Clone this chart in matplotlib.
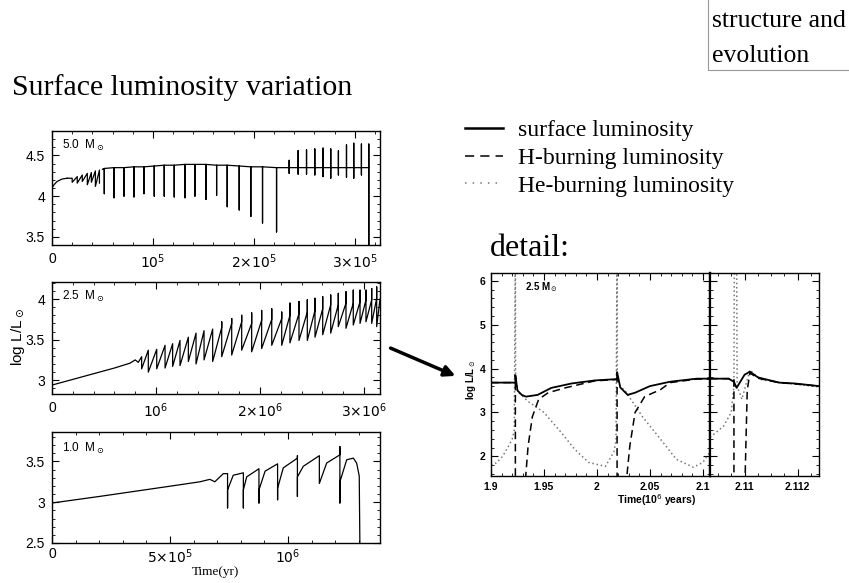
import matplotlib
matplotlib.use('Agg')
import matplotlib.pyplot as plt
from matplotlib.lines import Line2D
from matplotlib.patches import Rectangle, FancyArrowPatch
from matplotlib.ticker import MultipleLocator

# ---- 5.0 Msun: time in units of 1e5 yr ----
m5_early_t = [0.0, 0.02, 0.05, 0.10, 0.15]
m5_early_L = [4.10, 4.14, 4.18, 4.21, 4.22]
m5_teeth_t = [0.20, 0.25, 0.30, 0.35, 0.39, 0.43, 0.47]
m5_teeth_top = [4.22, 4.24, 4.26, 4.28, 4.29, 4.31, 4.32]
m5_teeth_low = [4.17, 4.16, 4.18, 4.14, 4.17, 4.12, 4.16]
m5_pulse_t = [0.518, 0.614, 0.713, 0.812, 0.911, 1.013, 1.112, 1.211, 1.317,
              1.416, 1.525, 1.631, 1.736, 1.855, 1.970, 2.086, 2.225, 2.350,
              2.439, 2.522, 2.604, 2.686, 2.762, 2.838, 2.918, 2.990, 3.066,
              3.139]
m5_base = [4.34, 4.35, 4.35, 4.36, 4.36, 4.37, 4.38, 4.38, 4.39, 4.39, 4.39,
           4.38, 4.38, 4.37, 4.36, 4.36, 4.35, 4.35, 4.35, 4.35, 4.35, 4.35,
           4.35, 4.35, 4.35, 4.35, 4.35, 4.35]
m5_high = [4.34, 4.35, 4.35, 4.36, 4.36, 4.37, 4.38, 4.38, 4.39, 4.39, 4.39,
           4.38, 4.38, 4.37, 4.36, 4.36, 4.35, 4.44, 4.56, 4.57, 4.58, 4.59,
           4.58, 4.56, 4.63, 4.65, 4.64, 4.64]
m5_low = [4.03, 3.98, 4.00, 3.99, 4.03, 4.00, 4.00, 3.99, 3.98, 4.00, 3.96,
          4.01, 3.87, 3.83, 3.75, 3.67, 3.56, 4.28, 4.27, 4.27, 4.26, 4.24,
          4.22, 4.26, 4.23, 4.22, 4.26, 3.30]
m5_main_start = (0.50, 4.33)

# ---- 2.5 Msun: time in units of 1e6 yr ----
m25_pre_t = [0.0, 0.2, 0.4, 0.6, 0.75, 0.80, 0.83]
m25_pre_L = [2.94, 3.01, 3.08, 3.15, 3.21, 3.25, 3.22]
m25_pulse_t = [0.862, 0.926, 1.007, 1.087, 1.160, 1.231, 1.311, 1.385, 1.462,
               1.545, 1.632, 1.728, 1.824, 1.920, 2.016, 2.113, 2.209, 2.288,
               2.375, 2.455, 2.529, 2.603, 2.680, 2.753, 2.827, 2.897, 2.962,
               3.019, 3.074, 3.122]
m25_top = [3.29, 3.37, 3.38, 3.43, 3.45, 3.49, 3.53, 3.58, 3.61, 3.63, 3.65,
           3.70, 3.72, 3.70, 3.74, 3.75, 3.76, 3.80, 3.82, 3.84, 3.86, 3.88,
           3.93, 3.93, 3.95, 3.95, 3.97, 3.99, 3.99, 4.01]
m25_spike = [3.29, 3.37, 3.38, 3.43, 3.45, 3.49, 3.53, 3.58, 3.61, 3.63, 3.72,
             3.76, 3.80, 3.83, 3.86, 3.88, 3.84, 3.95, 3.97, 3.99, 4.01, 4.03,
             4.05, 4.07, 4.09, 4.11, 4.11, 4.11, 4.13, 4.15]
m25_low = [3.14, 3.10, 3.14, 3.15, 3.17, 3.18, 3.23, 3.20, 3.25, 3.23, 3.29,
           3.31, 3.37, 3.35, 3.39, 3.43, 3.43, 3.46, 3.49, 3.49, 3.53, 3.56,
           3.58, 3.66, 3.64, 3.68, 3.70, 3.72, 3.70, 3.66]
m25_end = (3.154, 4.00)

# ---- 1.0 Msun: time in units of 1e6 yr ----
m1_pre_t = [0.0, 0.2, 0.51, 0.627, 0.669, 0.69, 0.726]
m1_pre_L = [2.99, 3.07, 3.20, 3.25, 3.28, 3.25, 3.35]
m1_pulse_t = [0.744, 0.811, 0.877, 0.956, 1.040, 1.133, 1.220]
m1_top = [3.35, 3.36, 3.41, 3.47, 3.54, 3.57, 3.58]
m1_up = [3.35, 3.36, 3.41, 3.47, 3.57, 3.57, 3.68]
m1_dn = [2.93, 2.93, 2.99, 3.03, 3.07, 3.23, 2.99]
m1_low = [3.15, 3.15, 3.15, 3.17, 3.31, 3.23, 3.25]
m1_knee_t = [0.768, 0.825, 0.903, 0.980, 1.065, 1.164, 1.249]
m1_knee_L = [3.33, 3.31, 3.38, 3.42, 3.44, 3.48, 3.52]
m1_end_t = [1.277, 1.291, 1.302, 1.305]
m1_end_L = [3.54, 3.48, 3.32, 2.40]

# ---- detail of 2.5 Msun (time in 1e6 yr) ----
dl_surf_t = [1.900, 1.923, 1.923, 1.925, 1.929, 1.933, 1.944, 1.957, 1.976,
             1.998, 2.019, 2.019, 2.022, 2.029, 2.036, 2.050, 2.069, 2.094,
             2.107]
dl_surf_L = [3.68, 3.68, 3.85, 3.50, 3.40, 3.36, 3.40, 3.56, 3.66, 3.73, 3.76,
             3.92, 3.57, 3.40, 3.45, 3.60, 3.70, 3.77, 3.77]
dl_h_t = [1.900, 1.923, 1.923, 1.931, 1.935, 1.939, 1.945, 1.954, 1.970,
          1.998, 2.019, 2.019, 2.026, 2.031, 2.036, 2.045, 2.060, 2.069,
          2.094, 2.107]
dl_h_L = [3.68, 3.68, 1.0, 1.0, 2.23, 2.90, 3.30, 3.45, 3.56, 3.72, 3.75, 1.0,
          1.0, 2.23, 3.00, 3.36, 3.52, 3.68, 3.76, 3.76]
dl_he_t = [1.900, 1.905, 1.911, 1.917, 1.920, 1.922, 1.923, 1.9232, 1.925,
           1.935, 1.950, 1.966, 1.979, 1.992, 2.008, 2.016, 2.018, 2.019,
           2.0192, 2.022, 2.027, 2.043, 2.060, 2.075, 2.091, 2.100, 2.107]
dl_he_L = [1.80, 1.85, 2.00, 2.25, 2.39, 2.60, 7.0, 3.80, 3.48, 3.25, 3.00,
           2.55, 2.16, 1.86, 1.77, 2.10, 2.36, 7.0, 3.75, 3.60, 3.48, 2.90,
           2.39, 1.93, 1.75, 1.86, 2.11]
dr_surf_t = [2.1087, 2.1094, 2.1096, 2.1097, 2.1100, 2.1102, 2.1105, 2.1113,
             2.1119, 2.1128]
dr_surf_L = [3.77, 3.77, 3.70, 3.56, 3.86, 3.93, 3.80, 3.68, 3.66, 3.60]
dr_h_t = [2.1087, 2.1096, 2.1096, 2.1100, 2.1101, 2.1102, 2.1105, 2.1113,
          2.1119, 2.1128]
dr_h_L = [3.77, 3.77, 1.0, 1.0, 3.50, 3.90, 3.78, 3.68, 3.65, 3.60]
dr_he_t = [2.1087, 2.1092, 2.1095, 2.1096, 2.10962, 2.1097, 2.10972, 2.1099,
           2.1102, 2.1106, 2.1113, 2.1120, 2.1128]
dr_he_L = [2.43, 2.68, 3.00, 3.60, 7.0, 7.0, 3.60, 3.30, 3.97, 3.75, 3.68,
           3.64, 3.58]

W, H = 849, 583
SERIF = 'Liberation Serif'
SANS = 'Liberation Sans'


def px_axes(fig, x0, y0, x1, y1):
    return fig.add_axes([x0 / W, 1 - y1 / H, (x1 - x0) / W, (y1 - y0) / H])


def style(ax, size=10, pad=5):
    ax.tick_params(which='both', direction='in', top=True, right=True,
                   labelsize=size, pad=pad)
    ax.tick_params(which='major', length=5, width=0.8)
    ax.tick_params(which='minor', length=2.5, width=0.6)
    for lab in ax.get_xticklabels() + ax.get_yticklabels():
        lab.set_family(SANS)
    for s in ax.spines.values():
        s.set_linewidth(1.0)


fig = plt.figure(figsize=(W / 100, H / 100), dpi=100)
LINE = dict(color='black', lw=0.9)

# 5.0 Msun
ax1 = px_axes(fig, 52, 131, 380, 245)
ax1.plot(m5_early_t, m5_early_L, **LINE)
xs, ys = [m5_early_t[-1]], [m5_early_L[-1]]
for t, top, low in zip(m5_teeth_t, m5_teeth_top, m5_teeth_low):
    xs += [t, t]
    ys += [top, low]
ax1.plot(xs, ys, **LINE)
xs, ys = [m5_main_start[0]], [m5_main_start[1]]
for t, b, hi, lo in zip(m5_pulse_t, m5_base, m5_high, m5_low):
    xs += [t, t, t, t]
    ys += [b, hi, lo, b]
ax1.plot(xs, ys, **LINE)
ax1.set_xlim(0, 3.25)
ax1.set_ylim(3.4, 4.8)
ax1.set_xticks([0, 1, 2, 3])
ax1.set_xticklabels(['0', r'$10^5$', r'$2{\times}10^5$', r'$3{\times}10^5$'])
ax1.set_yticks([3.5, 4, 4.5])
ax1.set_yticklabels(['3.5', '4', '4.5'])
ax1.xaxis.set_minor_locator(MultipleLocator(0.2))
ax1.yaxis.set_minor_locator(MultipleLocator(0.1))
style(ax1)
ax1.text(0.03, 0.87, r'5.0  M$_\odot$', transform=ax1.transAxes,
         fontsize=8.5, family=SANS, va='center')

# 2.5 Msun
ax2 = px_axes(fig, 52, 282, 380, 394)
xs, ys = list(m25_pre_t), list(m25_pre_L)
for t, top, sp, lo in zip(m25_pulse_t, m25_top, m25_spike, m25_low):
    xs += [t, t, t]
    ys += [top, sp, lo]
xs.append(m25_end[0])
ys.append(m25_end[1])
ax2.plot(xs, ys, **LINE)
ax2.set_xlim(0, 3.154)
ax2.set_ylim(2.83, 4.21)
ax2.set_xticks([0, 1, 2, 3])
ax2.set_xticklabels(['0', r'$10^6$', r'$2{\times}10^6$', r'$3{\times}10^6$'])
ax2.set_yticks([3, 3.5, 4])
ax2.set_yticklabels(['3', '3.5', '4'])
ax2.xaxis.set_minor_locator(MultipleLocator(0.2))
ax2.yaxis.set_minor_locator(MultipleLocator(0.1))
style(ax2)
ax2.text(0.03, 0.87, r'2.5  M$_\odot$', transform=ax2.transAxes,
         fontsize=8.5, family=SANS, va='center')

# 1.0 Msun
ax3 = px_axes(fig, 52, 432, 380, 543)
xs, ys = list(m1_pre_t), list(m1_pre_L)
for t, top, up, dn, lo, kt, kl in zip(m1_pulse_t, m1_top, m1_up, m1_dn,
                                      m1_low, m1_knee_t, m1_knee_L):
    xs += [t, t, t, t, kt]
    ys += [top, up, dn, lo, kl]
xs += m1_end_t
ys += m1_end_L
ax3.plot(xs, ys, **LINE)
ax3.set_xlim(0, 1.39)
ax3.set_ylim(2.5, 3.86)
ax3.set_xticks([0, 0.5, 1])
ax3.set_xticklabels(['0', r'$5{\times}10^5$', r'$10^6$'])
ax3.set_yticks([2.5, 3, 3.5])
ax3.set_yticklabels(['2.5', '3', '3.5'])
ax3.xaxis.set_minor_locator(MultipleLocator(0.1))
ax3.yaxis.set_minor_locator(MultipleLocator(0.1))
style(ax3)
ax3.tick_params(axis='x', pad=3)
ax3.text(0.03, 0.85, r'1.0  M$_\odot$', transform=ax3.transAxes,
         fontsize=8.5, family=SANS, va='center')
ax3.set_xlabel('Time(yr)', family=SERIF, fontsize=9.5, labelpad=0)

fig.text(18 / W, 1 - 337 / H, r'log L/L$_\odot$', rotation=90, family=SANS,
         fontsize=11, ha='center', va='center')

# detail: broken time axis
axL = px_axes(fig, 491, 273, 710, 476)
axR = px_axes(fig, 710, 273, 819, 476)
solid = dict(color='black', lw=1.3)
dashed = dict(color='black', lw=1.1, linestyle=(0, (5, 3)))
dotted = dict(color='#777777', lw=1.1, linestyle=(0, (1, 1.8)))
axL.plot(dl_he_t, dl_he_L, **dotted)
axL.plot(dl_h_t, dl_h_L, **dashed)
axL.plot(dl_surf_t, dl_surf_L, **solid)
axR.plot(dr_he_t, dr_he_L, **dotted)
axR.plot(dr_h_t, dr_h_L, **dashed)
axR.plot(dr_surf_t, dr_surf_L, **solid)
for ax in (axL, axR):
    ax.set_ylim(1.55, 6.18)
    ax.yaxis.set_minor_locator(MultipleLocator(0.2))
axL.set_xlim(1.9, 2.1067)
axR.set_xlim(2.1087, 2.1128)
axL.set_xticks([1.9, 1.95, 2, 2.05, 2.1])
axL.set_xticklabels(['1.9', '1.95', '2', '2.05', '2.1'])
axL.xaxis.set_minor_locator(MultipleLocator(0.01))
axR.set_xticks([2.11, 2.112])
axR.set_xticklabels(['2.11', '2.112'])
axR.xaxis.set_minor_locator(MultipleLocator(0.0005))
axL.set_yticks([2, 3, 4, 5, 6])
axL.set_yticklabels(['2', '3', '4', '5', '6'])
axR.set_yticks([2, 3, 4, 5, 6])
axR.set_yticklabels([])
for ax in (axL, axR):
    style(ax, size=7.5, pad=4)
    for lab in ax.get_xticklabels() + ax.get_yticklabels():
        lab.set_weight('bold')
axL.tick_params(axis='y', pad=4)
axL.spines['right'].set_linewidth(1.6)
axR.spines['left'].set_linewidth(1.6)
axL.text(0.155, 0.93, r'2.5 M$_\odot$', transform=axL.transAxes, fontsize=7,
         family=SANS, weight='bold', va='center')
fig.text(471 / W, 1 - 380 / H, r'log L/L$_\odot$', rotation=90, family=SANS,
         fontsize=7, weight='bold', ha='center', va='center')
fig.text(657 / W, 1 - 500 / H, r'Time(10$^6$ years)', family=SANS,
         fontsize=7.5, weight='bold', ha='center', va='center')

# slide texts
fig.text(12 / W, 1 - 88 / H, 'Surface luminosity variation', family=SERIF,
         fontsize=21.5, ha='left', va='center')
fig.text(712 / W, 1 - 21 / H, 'structure and', family=SERIF, fontsize=18.5,
         ha='left', va='center')
fig.text(712 / W, 1 - 56 / H, 'evolution', family=SERIF, fontsize=18.5,
         ha='left', va='center')
fig.add_artist(Rectangle((708, H - 70), 200, 80, transform=None,
                         facecolor='none', edgecolor='#999999', lw=0.8))
fig.text(490 / W, 1 - 249 / H, 'detail:', family=SERIF, fontsize=23,
         ha='left', va='center')

handles = [Line2D([], [], color='black', lw=1.8),
           Line2D([], [], color='black', lw=1.1, linestyle=(0, (6, 4))),
           Line2D([], [], color='#777777', lw=1.1, linestyle=(0, (1, 4)))]
labels = ['surface luminosity', 'H-burning luminosity',
          'He-burning luminosity']
fig.legend(handles, labels, loc='upper left',
           bbox_to_anchor=(444 / W, 1 - 98.5 / H), frameon=False,
           prop={'family': SERIF, 'size': 17}, handlelength=1.6,
           handletextpad=0.64, labelspacing=0.26)

fig.add_artist(FancyArrowPatch((388, H - 347), (458, H - 377),
                               transform=None, arrowstyle='-|>',
                               color='black', lw=2.5, mutation_scale=16))

fig.savefig('out.png', dpi=100)
